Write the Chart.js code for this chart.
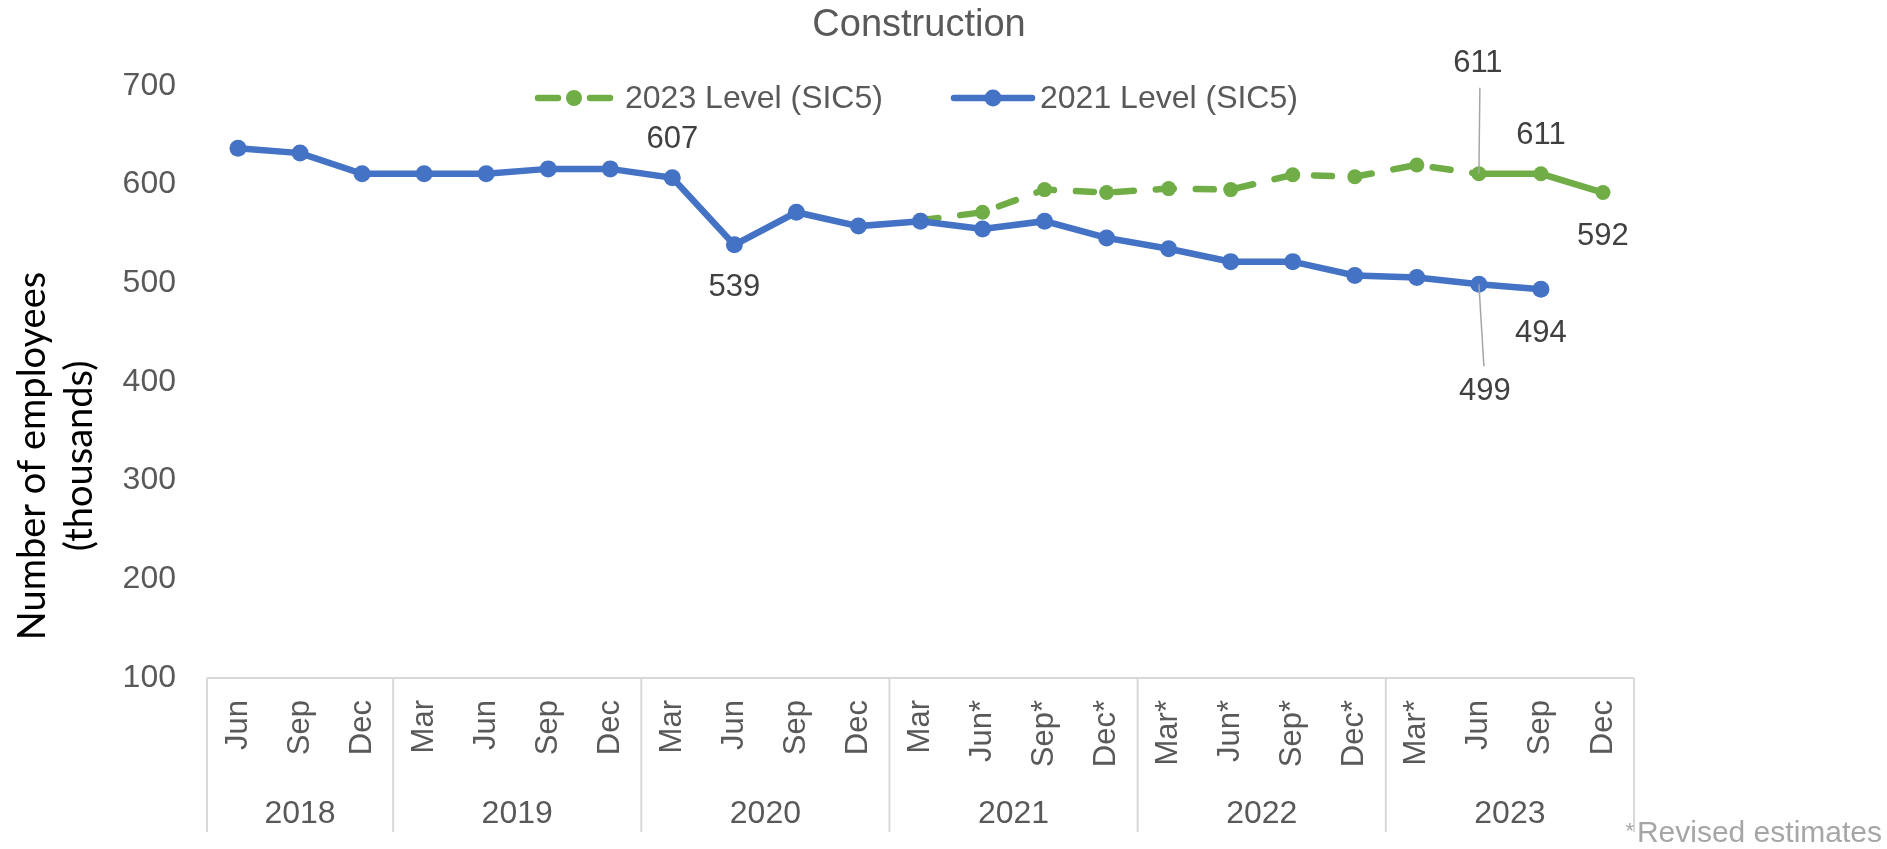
<!DOCTYPE html>
<html>
<head>
<meta charset="utf-8">
<script src="https://cdn.jsdelivr.net/npm/chart.js@4/dist/chart.umd.min.js"></script>
<style>
  html, body { margin: 0; padding: 0; background: #ffffff; }
  #wrap { width: 1887px; height: 849px; position: relative; }
</style>
</head>
<body>
<div id="wrap"><canvas id="c" width="1887" height="849"></canvas></div>
<script>
// ---- Data ----
const months = ['Jun','Sep','Dec','Mar','Jun','Sep','Dec','Mar','Jun','Sep','Dec','Mar','Jun*','Sep*','Dec*','Mar*','Jun*','Sep*','Dec*','Mar*','Jun','Sep','Dec'];
const years = ['2018','2019','2020','2021','2022','2023'];
const yearSpans = [3, 4, 4, 4, 4, 4];
const level2021 = [637, 632, 611, 611, 611, 616, 616, 607, 539, 572, 558, 563, 555, 563, 546, 535, 522, 522, 508, 506, 499, 494, null];
const level2023 = [null, null, null, null, null, null, null, null, null, null, null, 564, 572, 595, 592, 596, 595, 610, 608, 620, 611, 611, 592];
const yTicks = [100, 200, 300, 400, 500, 600, 700];
const seriesNames = ['2023 Level (SIC5)', '2021 Level (SIC5)'];
const titleText = 'Construction';
const yTitleLines = ['Number of employees', '(thousands)'];
const footnoteStar = '*';
const footnoteText = 'Revised estimates';
const labelled2021 = [7, 8, 20, 21];
const labelled2023 = [20, 21, 22];

// ---- Styling ----
const BLUE = '#4472C4';
const GREEN = '#70AD47';
const GREY = '#595959';
const LABEL = '#404040';
const LINE = '#d9d9d9';
const FONT = '"Liberation Sans", Arial, sans-serif';
const solidFrom = 20; // green series solid from this index

// label offsets (pixels relative to point)
const labelPos = {
  b7: {dx: 0, dy: -38},
  b8: {dx: 0, dy: 43},
  b20: {dx: 6, dy: 107, leader: [0, 0, 5, 82]},
  b21: {dx: 0, dy: 44},
  g20: {dx: -1, dy: -110, leader: [1, -86, 0, 0]},
  g21: {dx: 0, dy: -38},
  g22: {dx: 0, dy: 44}
};

const decor = {
  id: 'decor',
  afterDraw(chart) {
    const ctx = chart.ctx;
    const ca = chart.chartArea;
    const xs = chart.scales.x;
    ctx.save();

    // Title
    ctx.fillStyle = GREY;
    ctx.font = '38px ' + FONT;
    ctx.textAlign = 'center';
    ctx.textBaseline = 'middle';
    ctx.fillText(titleText, 919, 26);

    // Legend
    ctx.font = '32px ' + FONT;
    ctx.textAlign = 'left';
    ctx.lineCap = 'round';
    ctx.strokeStyle = GREEN; ctx.lineWidth = 6.5;
    ctx.beginPath(); ctx.moveTo(538, 98); ctx.lineTo(558, 98); ctx.moveTo(590, 98); ctx.lineTo(610, 98); ctx.stroke();
    ctx.fillStyle = GREEN; ctx.beginPath(); ctx.arc(574, 98, 8, 0, Math.PI * 2); ctx.fill();
    ctx.fillStyle = GREY; ctx.fillText(seriesNames[0], 625, 99);
    ctx.strokeStyle = BLUE; ctx.lineWidth = 6.5;
    ctx.beginPath(); ctx.moveTo(954, 98); ctx.lineTo(1032, 98); ctx.stroke();
    ctx.fillStyle = BLUE; ctx.beginPath(); ctx.arc(993, 98, 8.5, 0, Math.PI * 2); ctx.fill();
    ctx.fillStyle = GREY; ctx.fillText(seriesNames[1], 1040, 99);

    // Y axis title (rotated)
    ctx.save();
    ctx.fillStyle = '#000000';
    ctx.font = '38px Lato, "Open Sans", sans-serif';
    ctx.textAlign = 'center';
    ctx.textBaseline = 'middle';
    const yc = 456;
    [[33, yTitleLines[0]], [80, yTitleLines[1]]].forEach(([x, t]) => {
      ctx.save(); ctx.translate(x, yc); ctx.rotate(-Math.PI / 2); ctx.fillText(t, 0, 0); ctx.restore();
    });
    ctx.restore();

    // Category box lines
    const bottomY = 832;
    ctx.strokeStyle = LINE; ctx.lineWidth = 2; ctx.lineCap = 'butt';
    ctx.beginPath();
    ctx.moveTo(ca.left, ca.bottom); ctx.lineTo(ca.right, ca.bottom);
    let idx = 0;
    const bounds = [ca.left];
    yearSpans.forEach((n) => {
      idx += n;
      if (idx < months.length) {
        bounds.push((xs.getPixelForValue(idx - 1) + xs.getPixelForValue(idx)) / 2);
      }
    });
    bounds.push(ca.right);
    bounds.forEach((bx) => { ctx.moveTo(bx, ca.bottom); ctx.lineTo(bx, bottomY); });
    ctx.stroke();

    // Year labels
    ctx.fillStyle = GREY;
    ctx.font = '32px ' + FONT;
    ctx.textAlign = 'center';
    ctx.textBaseline = 'middle';
    years.forEach((y, i) => {
      ctx.fillText(y, (bounds[i] + bounds[i + 1]) / 2, 814);
    });

    // Data labels
    ctx.font = '31px ' + FONT;
    const drawLab = (dsIndex, arr, key, i) => {
      const meta = chart.getDatasetMeta(dsIndex);
      const pt = meta.data[i];
      const p = labelPos[key + i];
      if (!pt || !p) return;
      if (p.leader) {
        ctx.strokeStyle = '#a6a6a6'; ctx.lineWidth = 1.5;
        ctx.beginPath();
        ctx.moveTo(pt.x + p.leader[0], pt.y + p.leader[1]);
        ctx.lineTo(pt.x + p.leader[2], pt.y + p.leader[3]);
        ctx.stroke();
      }
      ctx.fillStyle = LABEL;
      ctx.fillText(String(arr[i]), pt.x + p.dx, pt.y + p.dy);
    };
    labelled2021.forEach(i => drawLab(0, level2021, 'b', i));
    labelled2023.forEach(i => drawLab(1, level2023, 'g', i));

    // Footnote
    ctx.fillStyle = '#a6a6a6';
    ctx.textBaseline = 'alphabetic';
    ctx.textAlign = 'right';
    ctx.font = '30px ' + FONT;
    ctx.fillText(footnoteText, 1882, 842);
    ctx.font = '22px ' + FONT;
    ctx.fillText(footnoteStar, 1634, 838);

    ctx.restore();
  }
};

new Chart(document.getElementById('c'), {
  type: 'line',
  data: {
    labels: months,
    datasets: [
      {
        label: seriesNames[1],
        data: level2021,
        borderColor: BLUE,
        backgroundColor: BLUE,
        borderWidth: 6.5,
        pointRadius: 8.5,
        pointBorderWidth: 0,
        pointBackgroundColor: BLUE,
        tension: 0,
        order: 0
      },
      {
        label: seriesNames[0],
        data: level2023,
        borderColor: GREEN,
        backgroundColor: GREEN,
        borderWidth: 6.5,
        borderCapStyle: 'round',
        pointRadius: 7.5,
        pointBorderWidth: 0,
        pointBackgroundColor: GREEN,
        tension: 0,
        spanGaps: false,
        order: 1,
        segment: {
          borderDash: (c) => (c.p0DataIndex < solidFrom ? [18, 22] : [])
        }
      }
    ]
  },
  options: {
    responsive: false,
    devicePixelRatio: 1,
    animation: false,
    layout: { padding: { top: 86, right: 253, bottom: 0, left: 0 } },
    plugins: {
      legend: { display: false },
      title: { display: false },
      tooltip: { enabled: false }
    },
    scales: {
      x: {
        type: 'category',
        offset: true,
        grid: { display: false, drawTicks: false },
        border: { display: false },
        ticks: {
          autoSkip: false,
          maxRotation: 90,
          minRotation: 90,
          padding: 22,
          color: GREY,
          font: { family: FONT, size: 31 }
        },
        afterFit: (s) => { s.height = 171; }
      },
      y: {
        min: 100,
        max: 700,
        grid: { display: false, drawTicks: false },
        border: { display: false },
        afterBuildTicks: (s) => { s.ticks = yTicks.map(v => ({ value: v })); },
        ticks: {
          padding: 31,
          color: GREY,
          font: { family: FONT, size: 32 }
        },
        afterFit: (s) => { s.width = 207; }
      }
    }
  },
  plugins: [decor]
});
</script>
</body>
</html>
